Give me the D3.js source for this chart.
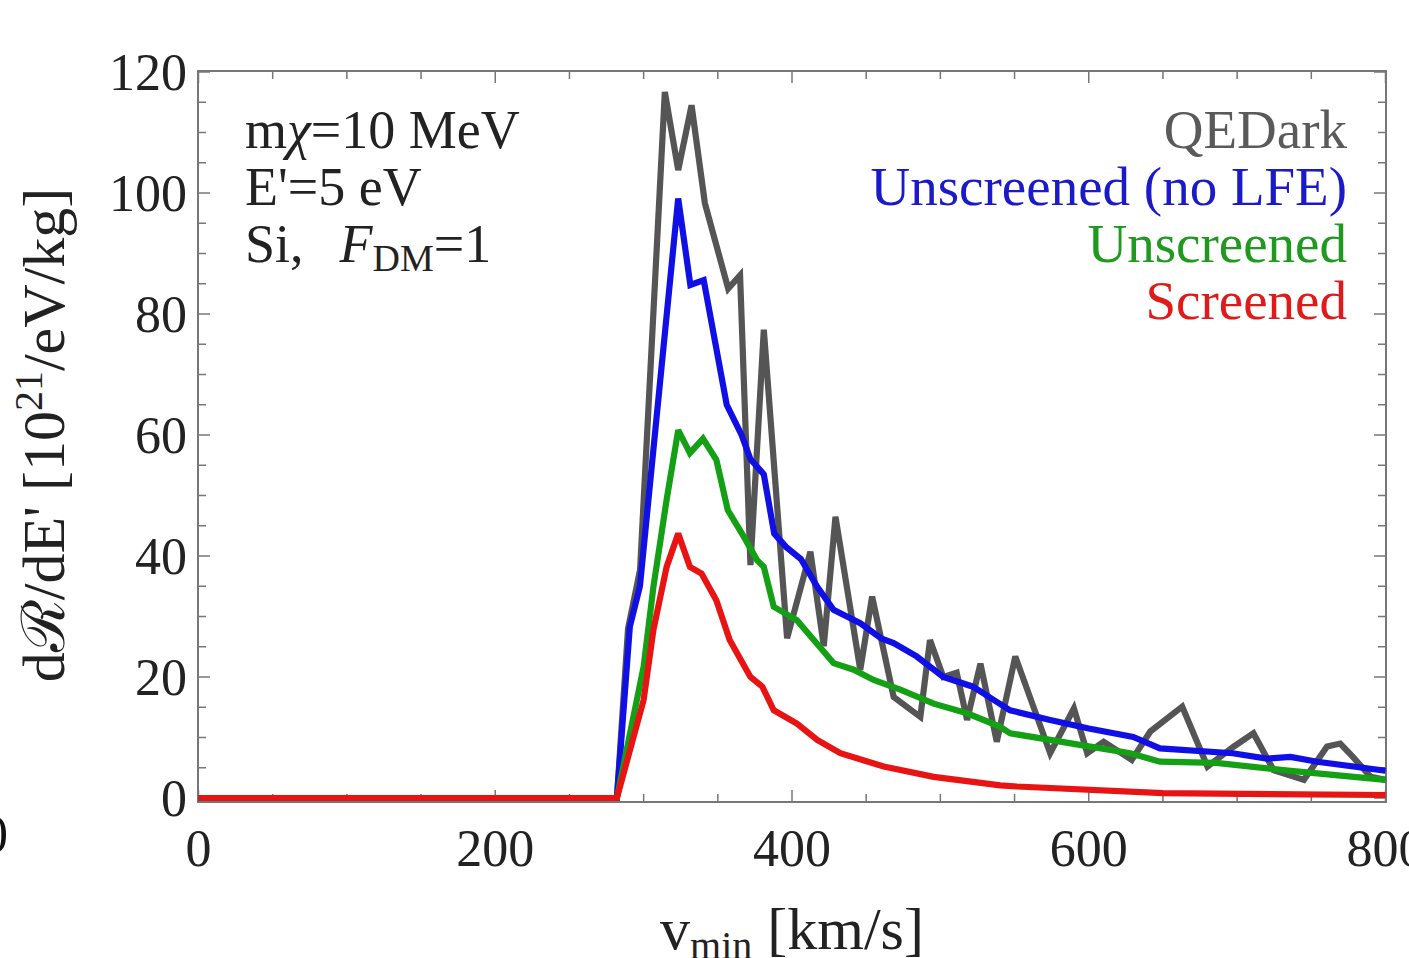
<!DOCTYPE html>
<html>
<head>
<meta charset="utf-8">
<script src="https://cdn.jsdelivr.net/npm/d3@7"></script>
<style>
  body { margin: 0; background: #fff; }
  text { font-family: "Liberation Serif", "DejaVu Serif", serif; }
</style>
</head>
<body>
<div id="chart"></div>
<script>
// v_min in km/s, rate in 10^21 /eV/kg
var qedV = [0, 282, 289.5, 297.6, 314.3, 323.3, 332.3, 341.3, 357, 365, 372, 381, 396.7, 412.4, 421.4, 429.3, 446, 454, 468.5, 486.5, 493, 502, 511, 518, 527, 538, 550.5, 574, 590, 599, 610, 629, 641.5, 663, 680, 697.7, 711, 724.6, 745, 760.6, 769.5, 778, 790, 800];
var qedR = [0, 0, 28, 37.7, 116.7, 103.8, 114.5, 98.3, 84.2, 86.4, 38.5, 77.4, 26.4, 40.7, 25.1, 46.5, 21.2, 33.3, 16.7, 13.4, 26.1, 20, 20.7, 12.9, 22.2, 9.3, 23.4, 7.4, 14.8, 7.4, 9.3, 6.3, 11, 15.1, 5.2, 8.5, 10.7, 4.6, 3, 8.5, 9, 6.8, 3.5, 3];

var noLfeV = [0, 282, 290.7, 297.5, 323.3, 331.5, 340.5, 356, 366, 372, 381, 388, 396, 406, 417, 428, 437, 446, 460, 468.5, 484, 502, 522, 536, 547, 574, 600, 630, 648, 697, 720, 736, 754, 800];
var noLfeR = [0, 0, 28.3, 35, 99.1, 84.8, 85.6, 65, 60, 56, 53.5, 43.7, 41.5, 39.5, 34.9, 31.1, 30, 28.9, 26.4, 25.6, 23.4, 20, 18.4, 16.2, 14.5, 12.9, 11.5, 10.1, 8.2, 7.4, 6.5, 6.8, 6, 4.5];

var unscrV = [0, 282, 300, 306.6, 315.5, 323.3, 331.2, 340, 349, 356.7, 367.5, 376.5, 381, 387.7, 403.3, 414.7, 428, 441.6, 455, 473, 495.5, 518, 540, 547, 574, 601, 628, 648, 686, 731, 800];
var unscrR = [0, 0, 21.7, 34.9, 49.3, 60.8, 57, 59.4, 55.9, 47.6, 43.2, 39.3, 38.2, 31.6, 29.4, 26.1, 22.3, 21.2, 19.5, 17.9, 15.6, 14, 11.8, 10.7, 9.6, 8.5, 7.4, 6, 5.8, 4.6, 3];

var scrV = [0, 282, 300, 306.6, 315.5, 323.3, 331.2, 339, 349, 358, 372, 380, 387.7, 403.3, 417, 432.6, 461.8, 495.5, 540.4, 551.6, 650, 800];
var scrR = [0, 0, 16.2, 27.8, 38.2, 43.7, 38.2, 37.1, 32.7, 26.1, 20, 18.4, 14.5, 12.3, 9.6, 7.4, 5.2, 3.5, 2.1, 1.9, 0.8, 0.5];

var seriesNames = ["QEDark", "Unscreened (no LFE)", "Unscreened", "Screened"];
var seriesColors = ["#555555", "#1010e6", "#14a014", "#e81414"];
var textColors = ["#5a5a5a", "#1a1ac8", "#1f9a1f", "#e01a1a"];

var xTicks = [0, 200, 400, 600, 800];
var yTicks = [0, 20, 40, 60, 80, 100, 120];

var width = 1409, height = 958;

var svg = d3.select("#chart").append("svg")
    .attr("width", width)
    .attr("height", height);

svg.append("rect").attr("width", width).attr("height", height).attr("fill", "#fff");

var x = d3.scaleLinear().domain([0, 800]).range([198.5, 1385.5]);
var y = d3.scaleLinear().domain([0, 120]).range([798, 72]);

var frameColor = "#777";

// frame
var fx0 = x(0) - 0.5, fx1 = x(800) + 0.5, fy0 = y(120) - 1, fy1 = y(0) + 4;
svg.append("rect")
    .attr("x", fx0).attr("y", fy0)
    .attr("width", fx1 - fx0).attr("height", fy1 - fy0)
    .attr("fill", "none")
    .attr("stroke", frameColor)
    .attr("stroke-width", 2);

// ticks, inward on all four sides
var ticks = svg.append("g").attr("stroke", frameColor).attr("stroke-width", 1.5);
d3.range(0, 801, 50).forEach(function(v){
    var len = (v % 200 == 0) ? 12 : 8;
    ticks.append("line").attr("x1", x(v)).attr("x2", x(v)).attr("y1", fy1).attr("y2", fy1 - len);
    ticks.append("line").attr("x1", x(v)).attr("x2", x(v)).attr("y1", fy0).attr("y2", fy0 + len);
});
d3.range(0, 121, 5).forEach(function(v){
    var len = (v % 20 == 0) ? 12 : 8;
    ticks.append("line").attr("x1", fx0).attr("x2", fx0 + len).attr("y1", y(v)).attr("y2", y(v));
    ticks.append("line").attr("x1", fx1).attr("x2", fx1 - len).attr("y1", y(v)).attr("y2", y(v));
});

// tick labels
svg.append("g").selectAll("text").data(xTicks).enter().append("text")
    .attr("x", function(d){ return x(d); })
    .attr("y", 866)
    .attr("text-anchor", "middle")
    .attr("font-size", 52)
    .attr("fill", "#222")
    .text(function(d){ return d; });

svg.append("g").selectAll("text").data(yTicks).enter().append("text")
    .attr("x", 187)
    .attr("y", function(d){ return y(d); })
    .attr("dy", "0.34em")
    .attr("text-anchor", "end")
    .attr("font-size", 52)
    .attr("fill", "#222")
    .text(function(d){ return d; });

// curves
var allSeries = [
    { v: qedV, r: qedR },
    { v: noLfeV, r: noLfeR },
    { v: unscrV, r: unscrR },
    { v: scrV, r: scrR }
];

var line = d3.line()
    .x(function(d){ return x(d[0]); })
    .y(function(d){ return y(d[1]); });

allSeries.forEach(function(s, i){
    var pts = s.v.map(function(v, j){ return [v, s.r[j]]; });
    svg.append("path")
        .datum(pts)
        .attr("d", line)
        .attr("fill", "none")
        .attr("stroke", seriesColors[i])
        .attr("stroke-width", 6.2)
        .attr("stroke-linejoin", "miter")
        .attr("stroke-miterlimit", 3);
});

// legend, right aligned
svg.append("g").selectAll("text").data(seriesNames).enter().append("text")
    .attr("x", 1347)
    .attr("y", function(d, i){ return 148 + i * 57; })
    .attr("text-anchor", "end")
    .attr("font-size", 55)
    .attr("fill", function(d, i){ return textColors[i]; })
    .text(function(d){ return d; });

// parameter block
var info = svg.append("g").attr("font-size", 54).attr("fill", "#222");
var t1 = info.append("text").attr("x", 245).attr("y", 148);
t1.append("tspan").text("m");
t1.append("tspan").attr("font-style", "italic").text("χ");
t1.append("tspan").text("=10 MeV");
info.append("text").attr("x", 245).attr("y", 205).text("E'=5 eV");
var t3 = info.append("text").attr("x", 245).attr("y", 262);
t3.append("tspan").text("Si,");
t3.append("tspan").attr("dx", 36).attr("font-style", "italic").text("F");
t3.append("tspan").attr("font-size", 38).attr("dy", 9).text("DM");
t3.append("tspan").attr("dy", -9).text("=1");

// axis titles
var xt = svg.append("text")
    .attr("x", 792).attr("y", 949)
    .attr("text-anchor", "middle")
    .attr("font-size", 60)
    .attr("fill", "#222");
xt.append("tspan").text("v");
xt.append("tspan").attr("font-size", 40).attr("dy", 10).text("min");
xt.append("tspan").attr("dy", -10).text(" [km/s]");

var yt = svg.append("text")
    .attr("transform", "translate(64,435) rotate(-90)")
    .attr("text-anchor", "middle")
    .attr("font-size", 60)
    .attr("fill", "#222");
yt.append("tspan").text("dℛ/dE' [10");
yt.append("tspan").attr("font-size", 40).attr("dy", -22).text("21");
yt.append("tspan").attr("dy", 22).text("/eV/kg]");

// clipped leftover glyph from the neighbouring panel
svg.append("text").attr("x", -18).attr("y", 852).attr("font-size", 52).attr("fill", "#111").text("0");
</script>
</body>
</html>
